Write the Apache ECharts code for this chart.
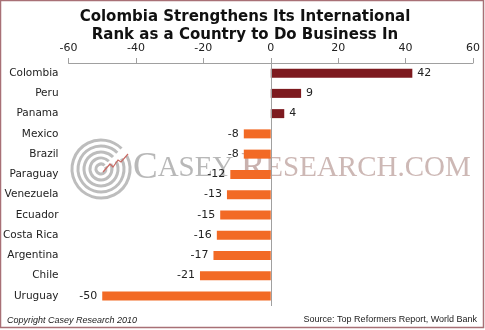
<!DOCTYPE html>
<html>
<head>
<meta charset="utf-8">
<script src="https://cdn.jsdelivr.net/npm/echarts@6/dist/echarts.min.js"></script>
<style>
html,body{margin:0;padding:0;background:#fff;}
#chart{width:485px;height:330px;}
</style>
</head>
<body>
<div id="chart"></div>
<script>
var categories = ['Colombia','Peru','Panama','Mexico','Brazil','Paraguay','Venezuela','Ecuador','Costa Rica','Argentina','Chile','Uruguay'];
var values = [42, 9, 4, -8, -8, -12, -13, -15, -16, -17, -21, -50];
var xTicks = [-60, -40, -20, 0, 20, 40, 60];

var posColor = '#7d1a1f';
var negColor = '#f26a25';
var FONT = 'DejaVu Sans';

var chart = echarts.init(document.getElementById('chart'), null, {renderer: 'canvas'});

var data = values.map(function (v) {
  return {
    value: v,
    itemStyle: {color: v >= 0 ? posColor : negColor},
    label: {position: v >= 0 ? 'right' : 'left'}
  };
});

function spiralArcs() {
  var arr = [];
  var radii = [29, 23, 17, 11, 5];
  radii.forEach(function (r) {
    arr.push({
      type: 'arc',
      shape: {cx: 101, cy: 169, r: r, startAngle: -Math.PI * 0.15, endAngle: Math.PI * 1.75},
      style: {stroke: '#bdbdbd', lineWidth: 3, fill: null},
      silent: true
    });
  });
  arr.push({
    type: 'polyline',
    shape: {points: [[103, 172], [110, 164], [113, 167], [118, 160], [121, 162], [128, 154]]},
    style: {stroke: '#c86a64', lineWidth: 1.2, fill: null},
    silent: true
  });
  return arr;
}

var option = {
  backgroundColor: '#fff',
  animation: false,
  title: {
    text: 'Colombia Strengthens Its International\nRank as a Country to Do Business In',
    left: 240,
    textAlign: 'center',
    top: 3,
    textStyle: {fontFamily: FONT, fontWeight: 'bold', fontSize: 15, color: '#111', lineHeight: 18}
  },
  grid: {left: 67, right: 12, top: 63, bottom: 24, containLabel: false},
  xAxis: {
    type: 'value',
    position: 'top',
    min: -60, max: 60, interval: 20,
    axisLine: {show: true, lineStyle: {color: '#a0a0a0', width: 1}},
    axisTick: {show: true, length: 5, lineStyle: {color: '#a0a0a0'}},
    splitLine: {show: false},
    axisLabel: {
      margin: 9, fontFamily: FONT, fontSize: 11, color: '#222',
      formatter: function (v) { return xTicks.indexOf(v) >= 0 ? String(v) : ''; }
    }
  },
  yAxis: {
    type: 'category',
    inverse: true,
    data: categories,
    axisLine: {show: false},
    axisTick: {show: false},
    axisLabel: {margin: 10, fontFamily: FONT, fontSize: 10.5, color: '#222'}
  },
  series: [{
    type: 'bar',
    data: data,
    barWidth: 9,
    label: {show: true, fontFamily: FONT, fontSize: 11, color: '#222', distance: 5},
    markLine: {
      silent: true,
      symbol: 'none',
      label: {show: false},
      lineStyle: {color: '#a0a0a0', type: 'solid', width: 1},
      data: [{xAxis: 0}]
    },
    z: 2
  }],
  graphic: [
    {
      type: 'rect',
      shape: {x: 0.5, y: 0.5, width: 483, height: 327},
      style: {fill: null, stroke: '#a87076', lineWidth: 1.5},
      silent: true, z: 10
    },
    {
      type: 'group', z: 5, silent: true,
      children: spiralArcs().concat([
        {
          type: 'text',
          x: 133, y: 187,
          style: {
            text: '{b|C}{s|ASEY }{c|R}{t|ESEARCH.COM}',
            verticalAlign: 'bottom',
            opacity: 0.85,
            rich: {
              b: {fontFamily: 'Liberation Serif', fontSize: 37, fill: '#ababab'},
              s: {fontFamily: 'Liberation Serif', fontSize: 29, fill: '#ababab'},
              c: {fontFamily: 'Liberation Serif', fontSize: 37, fill: '#bfa3a0'},
              t: {fontFamily: 'Liberation Serif', fontSize: 29, fill: '#c4aca8'}
            }
          },
          silent: true
        }
      ])
    },
    {
      type: 'text', x: 7, y: 320,
      style: {text: 'Copyright Casey Research 2010', fontFamily: 'Liberation Sans', fontStyle: 'italic', fontSize: 9, fill: '#222', verticalAlign: 'middle'},
      silent: true
    },
    {
      type: 'text', x: 477, y: 320,
      style: {text: 'Source: Top Reformers Report, World Bank', fontFamily: 'Liberation Sans', fontSize: 9, fill: '#222', align: 'right', verticalAlign: 'middle'},
      silent: true
    }
  ]
};
chart.setOption(option);
</script>
</body>
</html>
